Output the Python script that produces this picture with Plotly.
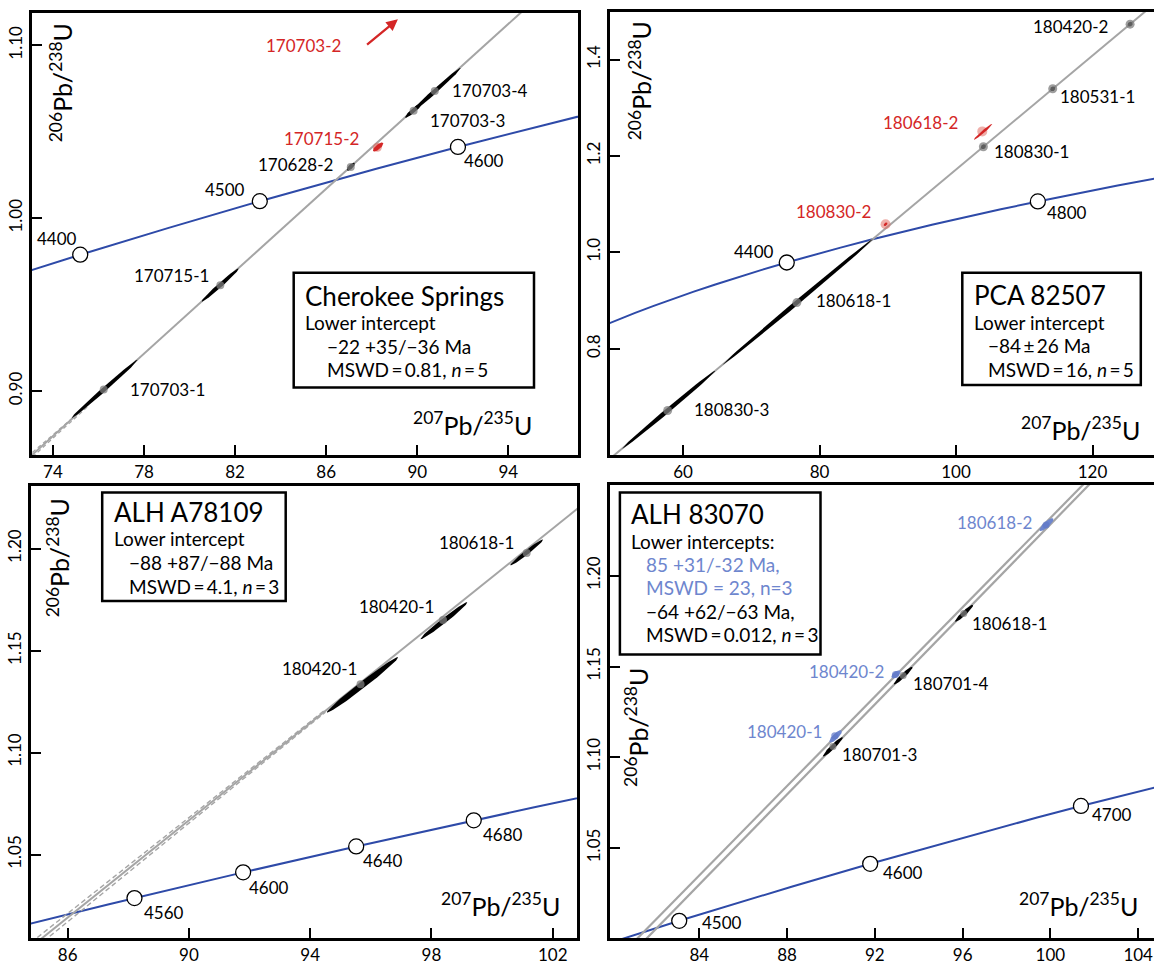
import numpy as np
import plotly.graph_objects as go

# ---------------- data ----------------
# Concordia reference points (age in Ma, 207Pb/235U, 206Pb/238U)
conc_age = [3950, 4000, 4050, 4100, 4150, 4200, 4250, 4300, 4350, 4400, 4450, 4500,
            4550, 4560, 4600, 4640, 4650, 4680, 4700, 4750, 4800, 4850, 4900, 4950]
conc_x = [47.919, 50.388, 52.982, 55.706, 58.569, 61.575, 64.734, 68.052, 71.537, 75.198,
          79.045, 83.085, 87.329, 88.203, 91.787, 95.516, 96.471, 99.394, 101.391, 106.559,
          111.989, 117.691, 123.682, 129.975]
conc_y = [0.84549, 0.85986, 0.87434, 0.88893, 0.90364, 0.91847, 0.93340, 0.94846, 0.96363,
          0.97892, 0.99431, 1.00986, 1.02551, 1.02866, 1.04128, 1.05399, 1.05717, 1.06679,
          1.07319, 1.08933, 1.10561, 1.12200, 1.13852, 1.15518]

# Panel 1: Cherokee Springs
cs_ages = [4400, 4500, 4600]
cs_names = ["170703-1", "170715-1", "170628-2", "170703-3", "170703-4"]
cs_cx = [76.23, 81.35, 87.08, 89.84, 90.77]
cs_cy = [0.9009, 0.9612, 1.0296, 1.0622, 1.0736]
cs_x1 = [74.81, 80.53, 86.92, 89.47, 89.63]
cs_y1 = [0.8843, 0.9518, 1.0277, 1.0583, 1.0600]
cs_x2 = [77.72, 82.16, 87.24, 90.21, 91.91]
cs_y2 = [0.9181, 0.9709, 1.0319, 1.0666, 1.0870]
cs_red_names = ["170715-2"]
cs_red_cx = [88.25]
cs_red_cy = [1.0411]
cs_red_x1 = [88.06]
cs_red_y1 = [1.0388]
cs_red_x2 = [88.50]
cs_red_y2 = [1.0436]
cs_arrow_name = "170703-2"
cs_arrow_tail = [87.73, 1.0998]
cs_arrow_head = [89.15, 1.1151]
cs_disc_x = [72.5, 95.5]
cs_disc_y = [0.8561, 1.1303]
cs_env_x = [73.1, 75.6]
cs_env_hi = [0.8645, 0.8928]
cs_env_lo = [0.8619, 0.8920]

# Panel 2: PCA 82507
pca_ages = [4400, 4800]
pca_names = ["180830-3", "180618-1", "180830-1", "180531-1", "180420-2"]
pca_cx = [57.75, 76.68, 104.01, 114.17, 125.51]
pca_cy = [0.6717, 0.8957, 1.2192, 1.3394, 1.4736]
pca_x1 = [51.07, 65.78, 103.71, 113.87, 125.21]
pca_y1 = [0.5927, 0.7667, 1.2156, 1.3358, 1.4700]
pca_x2 = [64.71, 87.81, 104.31, 114.47, 125.81]
pca_y2 = [0.7541, 1.0274, 1.2227, 1.3429, 1.4771]
pca_red_names = ["180830-2", "180618-2"]
pca_red_cx = [89.68, 103.85]
pca_red_cy = [1.0583, 1.2510]
pca_red_x1 = [89.43, 102.62]
pca_red_y1 = [1.0553, 1.2339]
pca_red_x2 = [89.93, 105.29]
pca_red_y2 = [1.0613, 1.2661]
pca_disc_x = [49.0, 129.5]
pca_disc_y = [0.5682, 1.5208]

# Panel 3: ALH A78109
alha_ages = [4560, 4600, 4640, 4680]
alha_names = ["180420-1", "180420-1", "180618-1"]
alha_cx = [95.66, 98.38, 101.14]
alha_cy = [1.1335, 1.1651, 1.1979]
alha_x1 = [94.55, 97.64, 100.60]
alha_y1 = [1.1197, 1.1557, 1.1919]
alha_x2 = [96.90, 99.18, 101.68]
alha_y2 = [1.1468, 1.1737, 1.2045]
alha_disc_x = [84.5, 103.5]
alha_disc_y = [1.0012, 1.2278]
alha_env_x = [85.0, 94.5]
alha_env_hi = [1.00935, 1.12105]
alha_env_lo = [1.00495, 1.11985]

# Panel 4: ALH 83070
alh_ages = [4500, 4600, 4700]
alh_blue_names = ["180618-2", "180420-2", "180420-1"]
alh_blue_cx = [99.80, 92.94, 90.17]
alh_blue_cy = [1.2280, 1.1456, 1.1119]
alh_blue_x1 = [99.51, 92.77, 89.94]
alh_blue_y1 = [1.2249, 1.1438, 1.1083]
alh_blue_x2 = [100.13, 93.15, 90.48]
alh_blue_y2 = [1.2316, 1.1475, 1.1147]
alh_names = ["180618-1", "180701-4", "180701-3"]
alh_cx = [96.05, 93.29, 90.09]
alh_cy = [1.1793, 1.1451, 1.1059]
alh_x1 = [95.66, 92.87, 89.64]
alh_y1 = [1.1748, 1.1402, 1.1005]
alh_x2 = [96.47, 93.71, 90.53]
alh_y2 = [1.1839, 1.1498, 1.1110]
alh_discA_x = [79.5, 105.0]
alh_discA_y = [0.9795, 1.2935]
alh_discB_x = [79.5, 105.0]
alh_discB_y = [0.9741, 1.2904]

# ---------------- style / layout ----------------
W, H = 1154, 965
FONT = "Lato"
BLUE = "rgb(46,74,168)"
RED = "rgb(212,38,38)"
LBLUE = "rgb(110,134,206)"
GLINE = "rgb(165,165,165)"
DOT = "rgba(125,125,125,0.75)"
TS = "\u2009"  # thin space

panels = [
    dict(px=(32, 578), py=(12.7, 459), xr=(73.08, 97.06), yr=(0.8629, 1.119),
         xt=[74, 78, 82, 86, 90, 94], yt=[0.90, 1.00, 1.10], ytt=["0.90", "1.00", "1.10"], ymirror=True),
    dict(px=(610, 1154), py=(12, 459), xr=(49.30, 129.01), yr=(0.579, 1.499),
         xt=[60, 80, 100, 120], yt=[0.8, 1.0, 1.2, 1.4], ytt=["0.8", "1.0", "1.2", "1.4"], ymirror=False),
    dict(px=(31, 577), py=(490, 946), xr=(84.79, 102.80), yr=(1.009, 1.2308),
         xt=[86, 90, 94, 98, 102], yt=[1.05, 1.10, 1.15, 1.20], ytt=["1.05", "1.10", "1.15", "1.20"], ymirror=True),
    dict(px=(610, 1154), py=(489, 946), xr=(79.93, 104.72), yr=(1.0003, 1.2501),
         xt=[84, 88, 92, 96, 100, 104], yt=[1.05, 1.10, 1.15, 1.20], ytt=["1.05", "1.10", "1.15", "1.20"], ymirror=False),
]

fig = go.Figure()
annotations = []
shapes = []


def axn(i):
    return ("x" if i == 0 else f"x{i+1}"), ("y" if i == 0 else f"y{i+1}")


def ellipse(i, x1, y1, x2, y2, hw):
    p = panels[i]
    sx = (p["px"][1] - p["px"][0]) / (p["xr"][1] - p["xr"][0])
    sy = (p["py"][1] - p["py"][0]) / (p["yr"][1] - p["yr"][0])
    cx, cy = (x1 + x2) / 2, (y1 + y2) / 2
    ax, ay = (x2 - x1) / 2 * sx, (y2 - y1) / 2 * sy
    L = max(np.hypot(ax, ay), 1e-9)
    nx, ny = -ay / L, ax / L
    t = np.linspace(0, 2 * np.pi, 64)
    ex = ax * np.cos(t) + nx * hw * np.sin(t)
    ey = ay * np.cos(t) + ny * hw * np.sin(t)
    return cx + ex / sx, cy + ey / sy


def add_line(i, xs, ys, color, width, dash="solid"):
    xa, ya = axn(i)
    fig.add_trace(go.Scatter(x=xs, y=ys, mode="lines", xaxis=xa, yaxis=ya,
                             line=dict(color=color, width=width, dash=dash),
                             hoverinfo="skip", showlegend=False))


def add_ellipses(i, x1s, y1s, x2s, y2s, color, hw):
    xa, ya = axn(i)
    for a, b, c, d in zip(x1s, y1s, x2s, y2s):
        ex, ey = ellipse(i, a, b, c, d, hw)
        fig.add_trace(go.Scatter(x=ex, y=ey, mode="lines", fill="toself", fillcolor=color,
                                 line=dict(width=0, color=color), xaxis=xa, yaxis=ya,
                                 hoverinfo="skip", showlegend=False))


def add_dots(i, xs, ys, color, size):
    xa, ya = axn(i)
    fig.add_trace(go.Scatter(x=xs, y=ys, mode="markers", xaxis=xa, yaxis=ya,
                             marker=dict(color=color, size=size, line=dict(width=0)),
                             hoverinfo="skip", showlegend=False))


def add_concordia(i, ages, offsets):
    xa, ya = axn(i)
    fig.add_trace(go.Scatter(x=conc_x, y=conc_y, mode="lines", xaxis=xa, yaxis=ya,
                             line=dict(color=BLUE, width=2), hoverinfo="skip", showlegend=False))
    mx = [conc_x[conc_age.index(a)] for a in ages]
    my = [conc_y[conc_age.index(a)] for a in ages]
    fig.add_trace(go.Scatter(x=mx, y=my, mode="markers", xaxis=xa, yaxis=ya,
                             marker=dict(color="white", size=15, line=dict(color="black", width=1.3)),
                             hoverinfo="skip", showlegend=False))
    for a, x, y, (anc, dx, dy) in zip(ages, mx, my, offsets):
        annotations.append(dict(x=x, y=y, xref=xa, yref=ya, text=str(a), showarrow=False,
                                xanchor=anc, yanchor="middle", xshift=dx, yshift=dy,
                                font=dict(family=FONT, size=17, color="black")))


def add_labels(i, names, xs, ys, offsets, color="black"):
    xa, ya = axn(i)
    for n, x, y, (anc, dx, dy) in zip(names, xs, ys, offsets):
        annotations.append(dict(x=x, y=y, xref=xa, yref=ya, text=n, showarrow=False,
                                xanchor=anc, yanchor="middle", xshift=dx, yshift=dy,
                                font=dict(family=FONT, size=17, color=color)))


def P(px, py):
    return px / W, 1 - py / H


# ---- Panel 1 ----
add_concordia(0, cs_ages, [("right", -1, 16), ("right", -13, 12), ("left", 4, -14)])
add_line(0, cs_disc_x, cs_disc_y, GLINE, 2)
add_line(0, cs_env_x, cs_env_hi, GLINE, 1.3, "4px,3px")
add_line(0, cs_env_x, cs_env_lo, GLINE, 1.3, "4px,3px")
add_ellipses(0, cs_x1, cs_y1, cs_x2, cs_y2, "black", 2.2)
add_dots(0, cs_cx, cs_cy, DOT, 8)
add_dots(0, cs_red_cx, cs_red_cy, "rgba(225,110,100,0.6)", 9)
add_ellipses(0, cs_red_x1, cs_red_y1, cs_red_x2, cs_red_y2, RED, 2.4)
add_labels(0, cs_names, cs_cx, cs_cy,
           [("left", 24, 0), ("right", -9, 10), ("right", -16, 3), ("left", 14, -10), ("left", 15, 1)])
add_labels(0, cs_red_names, cs_red_cx, cs_red_cy, [("right", -16, 9)], RED)
annotations.append(dict(x=cs_arrow_head[0], y=cs_arrow_head[1], ax=cs_arrow_tail[0], ay=cs_arrow_tail[1],
                        xref="x", yref="y", axref="x", ayref="y", text="", showarrow=True,
                        arrowhead=2, arrowsize=1, arrowwidth=2.3, arrowcolor=RED, standoff=0))
add_labels(0, [cs_arrow_name], [cs_arrow_tail[0]], [cs_arrow_tail[1]], [("right", -23, 0)], RED)

# ---- Panel 2 ----
add_concordia(1, pca_ages, [("right", -11, 11), ("left", 7, -11)])
add_line(1, pca_disc_x, pca_disc_y, GLINE, 2)
add_ellipses(1, pca_x1, pca_y1, pca_x2, pca_y2, "black", 2.3)
add_dots(1, pca_cx, pca_cy, DOT, 9)
add_dots(1, pca_red_cx, pca_red_cy, "rgba(225,110,100,0.55)", 10)
add_ellipses(1, pca_red_x1, pca_red_y1, pca_red_x2, pca_red_y2, RED, 1.4)
add_labels(1, pca_names, pca_cx, pca_cy,
           [("left", 24, 1), ("left", 17, 2), ("left", 9, -5), ("left", 5, -8), ("right", -20, -2)])
add_labels(1, pca_red_names, pca_red_cx, pca_red_cy, [("right", -13, 13), ("right", -22, 9)], RED)

# ---- Panel 3 ----
add_concordia(2, alha_ages, [("left", 8, -14), ("left", 4, -15), ("left", 5, -14), ("left", 7, -14)])
add_line(2, alha_disc_x, alha_disc_y, GLINE, 2)
add_line(2, alha_env_x, alha_env_hi, GLINE, 1.4, "5px,3px")
add_line(2, alha_env_x, alha_env_lo, GLINE, 1.4, "5px,3px")
add_ellipses(2, alha_x1[:1], alha_y1[:1], alha_x2[:1], alha_y2[:1], "black", 3.3)
add_ellipses(2, alha_x1[1:2], alha_y1[1:2], alha_x2[1:2], alha_y2[1:2], "black", 2.6)
add_ellipses(2, alha_x1[2:], alha_y1[2:], alha_x2[2:], alha_y2[2:], "black", 2.2)
add_dots(2, alha_cx, alha_cy, DOT, 8)
add_labels(2, alha_names, alha_cx, alha_cy, [("right", -2, 16), ("right", -7, 13), ("right", -11, 11)])

# ---- Panel 4 ----
add_concordia(3, alh_ages, [("left", 21, -2), ("left", 11, -9), ("left", 9, -9)])
add_line(3, alh_discA_x, alh_discA_y, GLINE, 2.2)
add_line(3, alh_discB_x, alh_discB_y, GLINE, 2.2)
add_ellipses(3, alh_blue_x1, alh_blue_y1, alh_blue_x2, alh_blue_y2, LBLUE, 2.8)
add_dots(3, alh_blue_cx, alh_blue_cy, "rgba(95,120,200,0.7)", 7)
add_ellipses(3, alh_x1, alh_y1, alh_x2, alh_y2, "black", 2.2)
add_dots(3, alh_cx, alh_cy, DOT, 7)
add_labels(3, alh_blue_names, alh_blue_cx, alh_blue_cy, [("right", -12, 3), ("right", -10, 3), ("right", -11, 4)], LBLUE)
add_labels(3, alh_names, alh_cx, alh_cy, [("left", 6, -10), ("left", 8, -8), ("left", 7, -8)])

# ---- axes ----
layout_axes = {}
for i, p in enumerate(panels):
    xd = [p["px"][0] / W, p["px"][1] / W]
    yd = [1 - p["py"][1] / H, 1 - p["py"][0] / H]
    xk = "xaxis" if i == 0 else f"xaxis{i+1}"
    yk = "yaxis" if i == 0 else f"yaxis{i+1}"
    xa, ya = axn(i)
    layout_axes[xk] = dict(domain=xd, range=list(p["xr"]), anchor=ya, showgrid=False, zeroline=False,
                           showline=True, linecolor="black", linewidth=2.5, mirror=True,
                           ticks="inside", ticklen=10, tickwidth=2, tickcolor="black",
                           tickvals=p["xt"], ticktext=[str(v) for v in p["xt"]],
                           tickfont=dict(family=FONT, size=17, color="black"))
    layout_axes[yk] = dict(domain=yd, range=list(p["yr"]), anchor=xa, showgrid=False, zeroline=False,
                           showline=True, linecolor="black", linewidth=2.5, mirror=p["ymirror"],
                           ticks="inside", ticklen=10, tickwidth=2, tickcolor="black",
                           tickvals=p["yt"], ticktext=p["ytt"], tickangle=-90,
                           tickfont=dict(family=FONT, size=17, color="black"))

# ---- axis titles ----
ytitle = "<sup>206</sup>Pb/<sup>238</sup>U"
xtitle = "<sup>207</sup>Pb/<sup>235</sup>U"
for (cx, cy) in [(61, 84), (640, 82), (58, 563), (637, 734)]:
    x, y = P(cx, cy)
    annotations.append(dict(x=x, y=y, xref="paper", yref="paper", text=ytitle, showarrow=False,
                            textangle=-90, xanchor="center", yanchor="middle",
                            font=dict(family=FONT, size=25, color="black")))
for (rx, cy) in [(534, 427), (1142, 432), (562, 912), (1140, 912)]:
    x, y = P(rx, cy)
    annotations.append(dict(x=x, y=y, xref="paper", yref="paper", text=xtitle, showarrow=False,
                            xanchor="right", yanchor="middle",
                            font=dict(family=FONT, size=25, color="black")))

# ---- info boxes ----
boxes = [(293.7, 275, 534, 390.7), (962.3, 275, 1140.8, 388.3),
         (102.2, 496.7, 285.7, 606), (619.9, 496.7, 820.5, 660)]
for (x0, y0, x1, y1) in boxes:
    a0, b0 = P(x0, y1)
    a1, b1 = P(x1, y0)
    shapes.append(dict(type="rect", xref="paper", yref="paper", x0=a0, y0=b0, x1=a1, y1=b1,
                       fillcolor="white", line=dict(color="black", width=2.5), layer="above"))

box_texts = [
    (303, 298.5, "Cherokee Springs", 26, "black"),
    (303, 325, "Lower intercept", 19, "black"),
    (325, 349, "−22 +35/−36 Ma", 19, "black"),
    (325, 373, f"MSWD{TS}={TS}0.81, <i>n</i>{TS}={TS}5", 19, "black"),
    (972, 297, "PCA 82507", 26, "black"),
    (972, 325, "Lower intercept", 19, "black"),
    (986, 348, f"−84{TS}±{TS}26 Ma", 19, "black"),
    (986, 372.5, f"MSWD{TS}={TS}16, <i>n</i>{TS}={TS}5", 19, "black"),
    (111.5, 516, "ALH A78109", 26, "black"),
    (111.5, 543, "Lower intercept", 19, "black"),
    (126.5, 567, "−88 +87/−88 Ma", 19, "black"),
    (126.5, 591.5, f"MSWD{TS}={TS}4.1, <i>n</i>{TS}={TS}3", 19, "black"),
    (629, 518, "ALH 83070", 26, "black"),
    (629, 546.5, "Lower intercepts:", 19, "black"),
    (644, 569, "85 +31/-32 Ma,", 19, LBLUE),
    (644, 592.5, "MSWD = 23, n=3", 19, LBLUE),
    (644, 616.5, "−64 +62/−63 Ma,", 19, "black"),
    (644, 640, f"MSWD{TS}={TS}0.012, <i>n</i>{TS}={TS}3", 19, "black"),
]
for (px, py, t, s, c) in box_texts:
    x, y = P(px, py)
    annotations.append(dict(x=x, y=y, xref="paper", yref="paper", text=t, showarrow=False,
                            xanchor="left", yanchor="middle",
                            font=dict(family=FONT, size=s, color=c)))

fig.update_layout(width=W, height=H, margin=dict(l=0, r=0, t=0, b=0),
                  paper_bgcolor="white", plot_bgcolor="white", showlegend=False,
                  annotations=annotations, shapes=shapes, **layout_axes)

fig.write_html("out.html")
